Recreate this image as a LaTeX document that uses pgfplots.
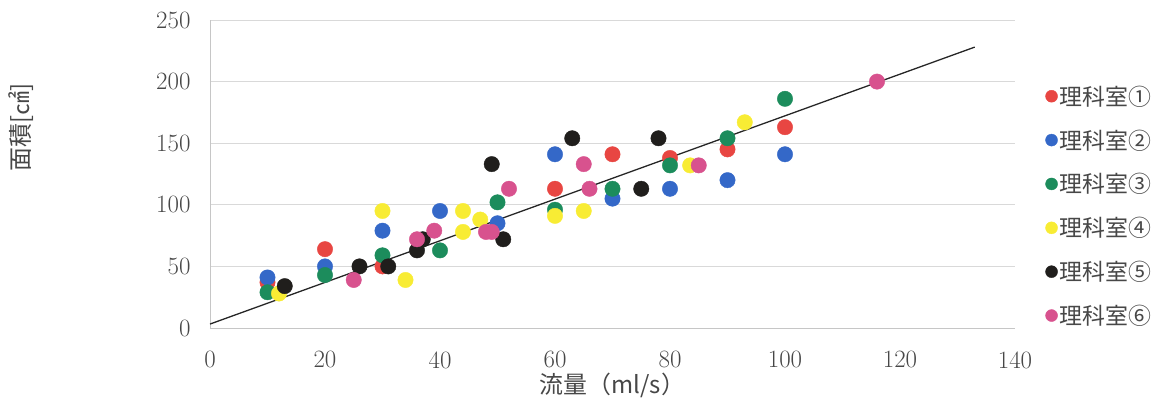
\documentclass[border=0pt]{standalone}
\usepackage{fontspec}
\usepackage{pgfplots}
\pgfplotsset{compat=1.18}
\newfontfamily\jp{Noto Sans CJK JP}
\definecolor{c1}{RGB}{232,70,66}
\definecolor{c2}{RGB}{52,104,200}
\definecolor{c3}{RGB}{28,140,92}
\definecolor{c4}{RGB}{248,236,52}
\definecolor{c5}{RGB}{32,30,28}
\definecolor{c6}{RGB}{216,82,142}
\begin{document}
\begin{tikzpicture}
\begin{axis}[name=ax, scale only axis, width=805bp, height=308bp,
  xmin=0, xmax=140, ymin=0, ymax=250,
  xtick={0,20,...,140}, ytick={0,50,...,250},
  /pgf/number format/assume math mode=true,
  ticklabel style={font=\fontsize{25}{28}\selectfont, text=black!72},
  major tick length=0pt,
  axis lines*=left, axis line style={-, gray!45, line width=0.8pt},
  ymajorgrids, grid style={gray!30, line width=0.7pt},
  yticklabel style={xshift=-16bp},
  xticklabel style={yshift=-20bp},
  xlabel={\jp 流量（ml/s）},
  xlabel style={at={(axis description cs:0.5,-0.185)}, anchor=center, font=\fontsize{24}{28}\selectfont, text=black!72},
  ylabel={\jp 面積[㎠]},
  ylabel style={at={(axis description cs:-0.235,0.65)}, anchor=center, font=\fontsize{24}{28}\selectfont, text=black!72},
  legend style={at={(axis description cs:1.034,0.80)}, anchor=north west, draw=none, fill=none,
    font=\jp\fontsize{23}{27}\selectfont, text=black!72, row sep=19bp},
  legend cell align=left,
  every axis plot/.append style={only marks, mark=*, mark size=7.7bp},
  legend image post style={mark size=6bp},
]
\addplot[c1, mark options={fill=c1, draw=c1}] coordinates {(10,37) (20,64) (30,50) (60,113) (70,141) (80,138) (90,145) (100,163)};
\addlegendentry{理科室①}
\addplot[c2, mark options={fill=c2, draw=c2}] coordinates {(10,41) (20,50) (30,79) (40,95) (50,85) (60,141) (70,105) (80,113) (90,120) (100,141)};
\addlegendentry{理科室②}
\addplot[c3, mark options={fill=c3, draw=c3}] coordinates {(10,29) (20,43) (30,59) (40,63) (50,102) (60,96) (70,113) (80,132) (90,154) (100,186)};
\addlegendentry{理科室③}
\addplot[c4, mark options={fill=c4, draw=c4}] coordinates {(12,28) (30,95) (34,39) (44,95) (44,78) (47,88) (60,91) (65,95) (83.5,132) (93,167)};
\addlegendentry{理科室④}
\addplot[c5, mark options={fill=c5, draw=c5}] coordinates {(13,34) (26,50) (31,50) (36,63) (37,72) (49,133) (51,72) (63,154) (75,113) (78,154)};
\addlegendentry{理科室⑤}
\addplot[c6, mark options={fill=c6, draw=c6}] coordinates {(25,39) (36,72) (39,79) (48,78) (49,78) (52,113) (65,133) (66,113) (85,132) (116,200)};
\addlegendentry{理科室⑥}
\addplot[black!85, line width=1.3pt, no marks, sharp plot, forget plot] coordinates {(0,3.2) (133,228)};
\end{axis}
\pgfresetboundingbox
\path[use as bounding box] ([xshift=-210bp,yshift=-73bp]ax.south west) rectangle ([xshift=951bp,yshift=328bp]ax.south west);
\end{tikzpicture}
\end{document}
